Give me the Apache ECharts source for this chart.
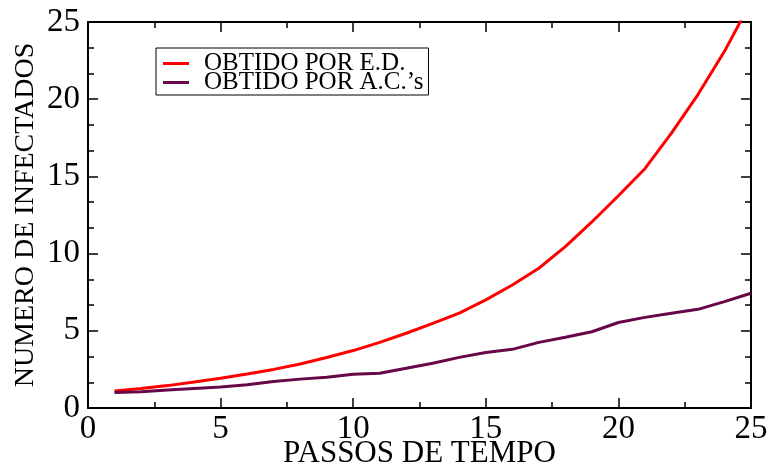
<!DOCTYPE html>
<html>
<head>
<meta charset="utf-8">
<script src="https://cdn.jsdelivr.net/npm/echarts@6/dist/echarts.min.js"></script>
<style>
  html, body { margin: 0; padding: 0; background: #fff; }
  #chart { width: 771px; height: 464px; }
</style>
</head>
<body>
<div id="chart"></div>
<script>
// Time steps and infected counts for both methods
const steps = [1,2,3,4,5,6,7,8,9,10,11,12,13,14,15,16,17,18,19,20,21,22,23,24,25];
const edValues = [1.1,1.27,1.45,1.68,1.93,2.2,2.5,2.85,3.27,3.72,4.25,4.84,5.48,6.15,7.0,7.97,9.05,10.45,12.05,13.75,15.5,17.8,20.3,23.1,26.3];
const acValues = [1.0,1.06,1.17,1.27,1.36,1.5,1.72,1.87,1.99,2.18,2.25,2.57,2.9,3.28,3.6,3.8,4.25,4.58,4.94,5.54,5.87,6.13,6.39,6.89,7.43];
const seriesNames = ['OBTIDO POR E.D.', 'OBTIDO POR A.C.\u2019s'];
const xTitle = 'PASSOS DE TEMPO';
const yTitle = 'NUMERO DE INFECTADOS';

const serif = '"Liberation Serif", "DejaVu Serif", serif';
const axisLine = { show: true, onZero: false, lineStyle: { color: '#000', width: 2 } };
const majorTick = { show: true, inside: true, length: 10, lineStyle: { color: '#000', width: 1.5 } };
const minorTickX = { show: true, splitNumber: 2, length: 6, lineStyle: { color: '#000', width: 1.5 } };
const minorTickY = { show: true, splitNumber: 3, length: 6, lineStyle: { color: '#000', width: 1.5 } };

const pairs = (ys) => steps.map((s, i) => [s, ys[i]]);

const chart = echarts.init(document.getElementById('chart'), null, { renderer: 'canvas' });
chart.setOption({
  animation: false,
  backgroundColor: '#fff',
  grid: { left: 88, right: 20, top: 22, bottom: 56, containLabel: false, outerBoundsMode: 'none' },
  legend: {
    left: 156, top: 48,
    orient: 'vertical',
    borderColor: '#000', borderWidth: 1,
    padding: [3, 5, 0, 7],
    itemGap: -6,
    itemWidth: 26, itemHeight: 3,
    icon: 'rect',
    textStyle: { fontFamily: serif, fontSize: 25, color: '#000', padding: [0, 0, 0, 10] },
    data: seriesNames
  },
  xAxis: [
    {
      type: 'value', min: 0, max: 25, interval: 5, position: 'bottom',
      axisLine, axisTick: majorTick, minorTick: minorTickX,
      splitLine: { show: false },
      axisLabel: { fontFamily: serif, fontSize: 33, color: '#000', margin: 5 },
      name: xTitle, nameLocation: 'middle', nameGap: 30, nameMoveOverlap: false,
      nameTextStyle: { fontFamily: serif, fontSize: 31, color: '#000' }
    },
    {
      type: 'value', min: 0, max: 25, interval: 5, position: 'top',
      axisLine, axisTick: majorTick, minorTick: minorTickX,
      splitLine: { show: false }, axisLabel: { show: false }
    }
  ],
  yAxis: [
    {
      type: 'value', min: 0, max: 25, interval: 5, position: 'left',
      axisLine, axisTick: majorTick, minorTick: minorTickY,
      splitLine: { show: false },
      axisLabel: { fontFamily: serif, fontSize: 33, color: '#000', margin: 8 },
      name: yTitle, nameLocation: 'middle', nameGap: 48, nameRotate: 90, nameMoveOverlap: false,
      nameTextStyle: { fontFamily: serif, fontSize: 28, color: '#000' }
    },
    {
      type: 'value', min: 0, max: 25, interval: 5, position: 'right',
      axisLine, axisTick: majorTick, minorTick: minorTickY,
      splitLine: { show: false }, axisLabel: { show: false }
    }
  ],
  series: [
    {
      name: seriesNames[0], type: 'line', xAxisIndex: 0, yAxisIndex: 0,
      data: pairs(edValues), showSymbol: false, symbol: 'none', clip: true,
      lineStyle: { color: '#ff0000', width: 3 }, itemStyle: { color: '#ff0000' }
    },
    {
      name: seriesNames[1], type: 'line', xAxisIndex: 0, yAxisIndex: 0,
      data: pairs(acValues), showSymbol: false, symbol: 'none', clip: true,
      lineStyle: { color: '#670748', width: 3 }, itemStyle: { color: '#670748' }
    }
  ]
});
</script>
</body>
</html>
